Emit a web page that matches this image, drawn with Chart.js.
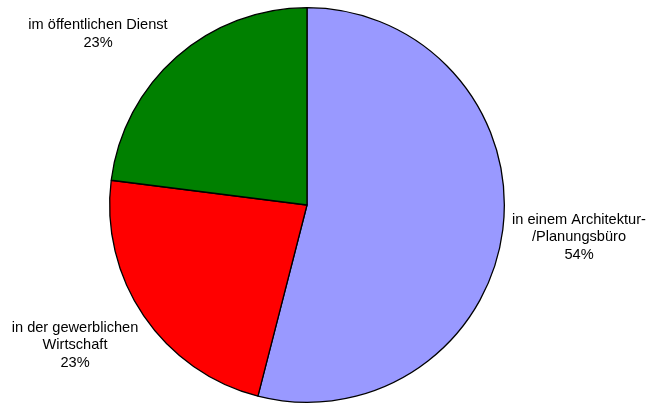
<!DOCTYPE html>
<html>
<head>
<meta charset="utf-8">
<script src="https://cdn.jsdelivr.net/npm/chart.js@4/dist/chart.umd.min.js"></script>
<style>
  html, body { margin: 0; padding: 0; background: #fff; }
  #wrap { width: 650px; height: 406px; }
</style>
</head>
<body>
<div id="wrap"><canvas id="pieChart" width="650" height="406"></canvas></div>
<script>
// Data
const categories = [
  ['in einem Architektur-', '/Planungsbüro'],
  ['in der gewerblichen', 'Wirtschaft'],
  ['im öffentlichen Dienst']
];
const shares = [54, 23, 23];
const sliceColors = ['#9999FF', '#FF0000', '#008000'];

// where each label block is centred (text only)
const labelAnchors = [
  { x: 579, y: 237 },
  { x: 75, y: 345 },
  { x: 98, y: 34 }
];

// Draw the outside labels like the spreadsheet export
const outsideLabels = {
  id: 'outsideLabels',
  afterDraw(chart) {
    const { ctx } = chart;
    const meta = chart.getDatasetMeta(0);
    ctx.save();
    ctx.font = '14.6px "Liberation Sans", Arial, sans-serif';
    ctx.fillStyle = '#000';
    ctx.textAlign = 'center';
    ctx.textBaseline = 'middle';
    const lineH = 17.5;
    meta.data.forEach((arc, i) => {
      const lines = [...categories[i], shares[i] + '%'];
      const a = labelAnchors[i];
      const y0 = a.y - (lines.length - 1) * lineH / 2;
      lines.forEach((t, j) => ctx.fillText(t, a.x, y0 + j * lineH));
    });
    ctx.restore();
  }
};

new Chart(document.getElementById('pieChart'), {
  type: 'pie',
  data: {
    labels: categories.map(c => c.join(' ')),
    datasets: [{
      data: shares,
      backgroundColor: sliceColors,
      borderColor: '#000',
      borderWidth: 1.3
    }]
  },
  options: {
    responsive: false,
    animation: false,
    layout: {
      padding: { left: 109, right: 145, top: 7, bottom: 3 }
    },
    plugins: {
      legend: { display: false },
      tooltip: { enabled: false }
    }
  },
  plugins: [outsideLabels]
});
</script>
</body>
</html>
